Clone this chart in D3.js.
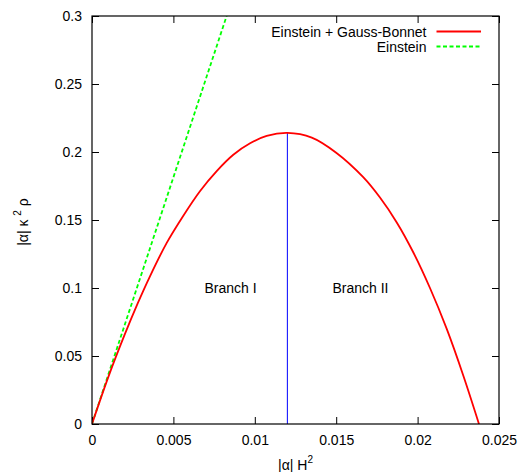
<!DOCTYPE html>
<html>
<head>
<meta charset="utf-8">
<script src="https://cdn.jsdelivr.net/npm/d3@7"></script>
<style>
  body { margin: 0; background: #fff; }
  text { font-family: "Liberation Sans", Arial, Helvetica, sans-serif; }
</style>
</head>
<body>
<div id="chart"></div>
<script>
"use strict";

// data
// Einstein + Gauss-Bonnet curve: |alpha| H^2 vs |alpha| kappa^2 rho
const gbX = [0, 0.001, 0.002, 0.0028, 0.00356, 0.00459, 0.00561, 0.00663, 0.00766, 0.00868, 0.00971, 0.01073, 0.012,
             0.0135, 0.015, 0.01666, 0.01769, 0.01872, 0.01974, 0.02076, 0.02179, 0.02281, 0.02377];
const gbY = [0, 0.0345, 0.0655, 0.0885, 0.1086, 0.1332, 0.1532, 0.1712, 0.1860, 0.1980, 0.2064, 0.2118, 0.2140,
             0.2106, 0.1995, 0.1815, 0.1665, 0.1482, 0.1261, 0.1000, 0.0699, 0.0355, 0];
// Einstein line
const einX = [0, 0.00827];
const einY = [0, 0.3];

const xTicks = [0, 0.005, 0.01, 0.015, 0.02, 0.025];
const xTickLabels = ["0", "0.005", "0.01", "0.015", "0.02", "0.025"];
const yTicks = [0, 0.05, 0.1, 0.15, 0.2, 0.25, 0.3];
const yTickLabels = ["0", "0.05", "0.1", "0.15", "0.2", "0.25", "0.3"];

const branchX = 0.012;
const branchTop = 0.2140;
const branchLabels = [{text: "Branch I", x: 0.00851, y: 0.1}, {text: "Branch II", x: 0.01649, y: 0.1}];
const seriesNames = ["Einstein + Gauss-Bonnet", "Einstein"];

const W = 522, H = 472;
const margin = {top: 16, right: 23, bottom: 48, left: 92};
const w = W - margin.left - margin.right;
const h = H - margin.top - margin.bottom;

const svg = d3.select("#chart").append("svg").attr("width", W).attr("height", H);
const g = svg.append("g").attr("transform", "translate(" + margin.left + "," + margin.top + ")");

const x = d3.scaleLinear().domain([0, 0.025]).range([0, w]);
const y = d3.scaleLinear().domain([0, 0.3]).range([h, 0]);

// clip for the curves
svg.append("defs").append("clipPath").attr("id", "clip")
   .append("rect").attr("width", w).attr("height", h);

// axes, ticks point inwards (gnuplot style, mirrored on top/right)
g.append("g").attr("transform", "translate(0," + h + ")")
 .call(d3.axisBottom(x).tickValues(xTicks).tickFormat((d, i) => xTickLabels[i])
        .tickSizeInner(-7).tickSizeOuter(0).tickPadding(11))
 .call(a => a.select(".domain").remove());
g.append("g")
 .call(d3.axisTop(x).tickValues(xTicks).tickFormat("").tickSizeInner(-7).tickSizeOuter(0))
 .call(a => a.select(".domain").remove());
g.append("g")
 .call(d3.axisLeft(y).tickValues(yTicks).tickFormat((d, i) => yTickLabels[i])
        .tickSizeInner(-7).tickSizeOuter(0).tickPadding(10))
 .call(a => a.select(".domain").remove());
g.append("g").attr("transform", "translate(" + w + ",0)")
 .call(d3.axisRight(y).tickValues(yTicks).tickFormat("").tickSizeInner(-7).tickSizeOuter(0))
 .call(a => a.select(".domain").remove());

g.selectAll(".tick text").attr("font-size", 14).attr("fill", "#000")
 .attr("font-family", "Liberation Sans, Arial, sans-serif");
g.selectAll(".tick line").attr("stroke", "#000");

// branch divider
g.append("line")
 .attr("x1", x(branchX)).attr("x2", x(branchX))
 .attr("y1", y(0)).attr("y2", y(branchTop))
 .attr("stroke", "#0000ff").attr("stroke-width", 1);

// curves
const line = d3.line().x(d => x(d[0])).y(d => y(d[1]));
const gbData = gbX.map((v, i) => [v, gbY[i]]);
const einData = einX.map((v, i) => [v, einY[i]]);

g.append("path").datum(einData)
 .attr("clip-path", "url(#clip)")
 .attr("d", line)
 .attr("fill", "none").attr("stroke", "#00ff00").attr("stroke-width", 1.8)
 .attr("stroke-dasharray", "4,2.5");

g.append("path").datum(gbData)
 .attr("clip-path", "url(#clip)")
 .attr("d", line.curve(d3.curveCatmullRom.alpha(0.5)))
 .attr("fill", "none").attr("stroke", "#ff0000").attr("stroke-width", 1.8);

// frame
g.append("rect").attr("width", w).attr("height", h)
 .attr("fill", "none").attr("stroke", "#000").attr("stroke-width", 1.2);

// branch labels
g.selectAll(".branch").data(branchLabels).enter().append("text")
 .attr("class", "branch")
 .attr("x", d => x(d.x)).attr("y", d => y(d.y) + 5)
 .attr("text-anchor", "middle").attr("font-size", 14)
 .text(d => d.text);

// legend
const legendColors = ["#ff0000", "#00ff00"];
const legend = g.selectAll(".legend").data(seriesNames).enter().append("g")
 .attr("class", "legend")
 .attr("transform", (d, i) => "translate(0," + (15.5 + i * 15) + ")");
legend.append("text")
 .attr("x", 334.5).attr("y", 5)
 .attr("text-anchor", "end").attr("font-size", 14)
 .text(d => d);
legend.append("line")
 .attr("x1", 344.5).attr("x2", 389).attr("y1", 0).attr("y2", 0)
 .attr("stroke", (d, i) => legendColors[i]).attr("stroke-width", 1.8)
 .attr("stroke-dasharray", (d, i) => i === 1 ? "4,2.5" : null);

// axis titles
const xt = svg.append("text")
 .attr("x", margin.left + w / 2).attr("y", 470)
 .attr("text-anchor", "middle").attr("font-size", 14);
xt.append("tspan").text("|α| H");
xt.append("tspan").attr("font-size", 10).attr("dy", -7).text("2");

const yt = svg.append("text")
 .attr("transform", "translate(28," + (margin.top + h / 2 + 2) + ") rotate(-90)")
 .attr("text-anchor", "middle").attr("font-size", 14);
yt.append("tspan").text("|α| κ ");
yt.append("tspan").attr("font-size", 10).attr("dy", -7).text("2");
yt.append("tspan").attr("dy", 7).text(" ρ");
</script>
</body>
</html>
